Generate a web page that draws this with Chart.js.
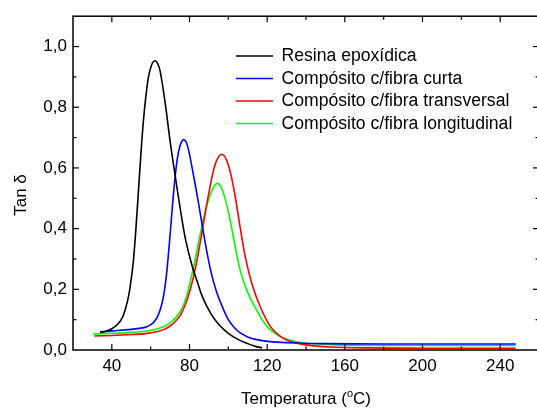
<!DOCTYPE html>
<html>
<head>
<meta charset="utf-8">
<script src="https://cdn.jsdelivr.net/npm/chart.js@4.4.1/dist/chart.umd.min.js"></script>
<style>
    html, body { margin: 0; padding: 0; background: #fff; overflow: hidden; }
    canvas { display: block; }
</style>
</head>
<body>
<canvas id="tanDeltaChart" width="545" height="410"></canvas>
<script>
// curves (temperature in C, tan delta)
const seriesLabels = [
    'Resina epoxídica',
    'Compósito c/fibra curta',
    'Compósito c/fibra transversal',
    'Compósito c/fibra longitudinal'
];
const seriesColors = ['#000000', '#0000ff', '#ff0000', '#00ff00'];

const tempResina = [34, 37, 40, 43, 45.3, 47, 48.7, 50, 51.2, 53, 54.7, 56.4, 58.7, 60.5, 62, 63.5, 65, 67.6, 70.2, 72.7, 75.3, 77.9, 81, 84, 87, 91, 95, 100, 105, 110, 114, 117.4];
const tanResina = [0.058, 0.062, 0.07, 0.085, 0.105, 0.135, 0.18, 0.235, 0.3, 0.455, 0.62, 0.765, 0.894, 0.94, 0.953, 0.945, 0.915, 0.808, 0.679, 0.571, 0.463, 0.366, 0.285, 0.225, 0.17, 0.12, 0.085, 0.055, 0.035, 0.021, 0.012, 0.007];

const tempCurta = [34, 40, 48.7, 55, 58, 60.5, 62.4, 64.2, 65.9, 67.3, 68.5, 70.2, 71.9, 73.6, 75.2, 76.8, 78.3, 79.6, 82.2, 84.5, 87.5, 90.8, 94, 97.6, 100, 102.8, 106, 109.7, 114, 118.3, 125, 135, 150, 180, 220, 248];
const tanCurta = [0.06, 0.063, 0.067, 0.072, 0.077, 0.085, 0.098, 0.12, 0.155, 0.205, 0.27, 0.395, 0.525, 0.625, 0.675, 0.693, 0.685, 0.657, 0.571, 0.49, 0.375, 0.265, 0.19, 0.132, 0.1, 0.076, 0.057, 0.044, 0.035, 0.03, 0.026, 0.023, 0.021, 0.02, 0.02, 0.02];

const tempTransversal = [31, 40, 50, 57.3, 63, 67, 70.2, 72.7, 75.3, 77.9, 80.2, 82.2, 84, 86.5, 88.6, 90.8, 93, 95, 96.6, 98.2, 100, 101.8, 103.7, 106.2, 108.8, 112.3, 116.6, 121.7, 126.9, 132, 140, 152.6, 170, 200, 248];
const tanTransversal = [0.046, 0.048, 0.051, 0.054, 0.06, 0.068, 0.08, 0.094, 0.115, 0.15, 0.195, 0.245, 0.3, 0.39, 0.47, 0.545, 0.607, 0.637, 0.645, 0.637, 0.61, 0.565, 0.5, 0.4, 0.305, 0.215, 0.14, 0.077, 0.044, 0.028, 0.017, 0.01, 0.007, 0.006, 0.006];

const tempLongitudinal = [30.5, 40, 50, 57.3, 63, 67, 70.2, 72.7, 75.3, 77.9, 80, 83, 85, 87.3, 89, 90.8, 92.5, 94.2, 96, 97.6, 99.5, 101.1, 103.7, 106.2, 109.7, 114.8, 120, 126.9, 132, 140, 155, 180, 220, 248];
const tanLongitudinal = [0.053, 0.055, 0.058, 0.062, 0.069, 0.078, 0.09, 0.105, 0.127, 0.165, 0.215, 0.3, 0.365, 0.435, 0.478, 0.513, 0.538, 0.549, 0.541, 0.515, 0.47, 0.422, 0.336, 0.26, 0.194, 0.129, 0.077, 0.044, 0.032, 0.022, 0.017, 0.015, 0.015, 0.015];

const xTicks = [40, 80, 120, 160, 200, 240];
const xMinorTicks = [60, 100, 140, 180, 220];
const yTicks = [0, 0.2, 0.4, 0.6, 0.8, 1.0];
const yMinorTicks = [0.1, 0.3, 0.5, 0.7, 0.9];

const FONT = '"Liberation Sans", Arial, sans-serif';

function toPoints(xs, ys) {
    return xs.map((x, i) => ({ x: x, y: ys[i] }));
}

const allTemps = [tempResina, tempCurta, tempTransversal, tempLongitudinal];
const allTans = [tanResina, tanCurta, tanTransversal, tanLongitudinal];

const datasets = seriesLabels.map((label, i) => ({
    label: label,
    data: toPoints(allTemps[i], allTans[i]),
    borderColor: seriesColors[i],
    borderWidth: 1.6,
    pointRadius: 0,
    tension: 0.35,
    fill: false
}));

// frame, inward ticks, legend and axis titles, like the origin-style plot
const framePlugin = {
    id: 'framePlugin',
    afterDraw(chart) {
        const ctx = chart.ctx;
        const a = chart.chartArea;
        const xs = chart.scales.x;
        const ys = chart.scales.y;
        ctx.save();
        ctx.strokeStyle = '#000';
        ctx.lineWidth = 1.5;
        ctx.strokeRect(a.left, a.top, a.right - a.left, a.bottom - a.top);

        ctx.lineWidth = 1.2;
        const tick = (x1, y1, x2, y2) => {
            ctx.beginPath();
            ctx.moveTo(x1, y1);
            ctx.lineTo(x2, y2);
            ctx.stroke();
        };
        xTicks.forEach(v => {
            const px = xs.getPixelForValue(v);
            tick(px, a.bottom, px, a.bottom - 6);
            tick(px, a.top, px, a.top + 6);
        });
        xMinorTicks.forEach(v => {
            const px = xs.getPixelForValue(v);
            tick(px, a.bottom, px, a.bottom - 3.5);
            tick(px, a.top, px, a.top + 3.5);
        });
        yTicks.filter(v => v > 0).forEach(v => {
            const py = ys.getPixelForValue(v);
            tick(a.left, py, a.left + 6, py);
            tick(a.right, py, a.right - 6, py);
        });
        yMinorTicks.forEach(v => {
            const py = ys.getPixelForValue(v);
            tick(a.left, py, a.left + 3.5, py);
            tick(a.right, py, a.right - 3.5, py);
        });

        // legend
        ctx.font = '17.6px ' + FONT;
        ctx.textBaseline = 'middle';
        ctx.textAlign = 'left';
        chart.data.datasets.forEach((ds, i) => {
            const y = 56 + i * 22.5;
            ctx.strokeStyle = ds.borderColor;
            ctx.lineWidth = 1.6;
            tick(236, y, 273, y);
            ctx.fillStyle = '#000';
            ctx.fillText(ds.label, 281.5, y + 0.5);
        });

        // y title
        ctx.font = '17px ' + FONT;
        ctx.save();
        ctx.translate(21, 195);
        ctx.rotate(-Math.PI / 2);
        ctx.textAlign = 'center';
        ctx.fillText('Tan δ', 0, 0);
        ctx.restore();

        // x title with superscript o
        ctx.textBaseline = 'alphabetic';
        const part1 = 'Temperatura (';
        const part3 = 'C)';
        ctx.font = '17px ' + FONT;
        const w1 = ctx.measureText(part1).width;
        const w3 = ctx.measureText(part3).width;
        ctx.font = '11px ' + FONT;
        const w2 = ctx.measureText('o').width;
        let x0 = 306 - (w1 + w2 + w3) / 2;
        const base = 404;
        ctx.font = '17px ' + FONT;
        ctx.fillText(part1, x0, base);
        ctx.font = '11px ' + FONT;
        ctx.fillText('o', x0 + w1, base - 7);
        ctx.font = '17px ' + FONT;
        ctx.fillText(part3, x0 + w1 + w2, base);
        ctx.restore();
    }
};

const ctx = document.getElementById('tanDeltaChart').getContext('2d');
new Chart(ctx, {
    type: 'line',
    data: { datasets: datasets },
    options: {
        responsive: false,
        animation: false,
        devicePixelRatio: 1,
        layout: { padding: { top: 10, right: 6, left: 0, bottom: 0 } },
        plugins: {
            legend: { display: false },
            tooltip: { enabled: false }
        },
        scales: {
            x: {
                type: 'linear',
                min: 20,
                max: 260,
                afterBuildTicks: s => { s.ticks = xTicks.map(v => ({ value: v })); },
                afterFit: s => { s.height = 60; },
                grid: { display: false, drawTicks: false },
                border: { display: false },
                ticks: {
                    padding: 6,
                    color: '#000',
                    font: { family: FONT, size: 17 },
                    maxRotation: 0,
                    callback: v => String(v)
                }
            },
            y: {
                type: 'linear',
                min: 0,
                max: 1.1,
                afterBuildTicks: s => { s.ticks = yTicks.map(v => ({ value: v })); },
                afterFit: s => { s.width = 73; },
                grid: { display: false, drawTicks: false },
                border: { display: false },
                ticks: {
                    padding: 6,
                    color: '#000',
                    font: { family: FONT, size: 17 },
                    callback: v => v.toFixed(1).replace('.', ',')
                }
            }
        }
    },
    plugins: [framePlugin]
});
</script>
</body>
</html>
